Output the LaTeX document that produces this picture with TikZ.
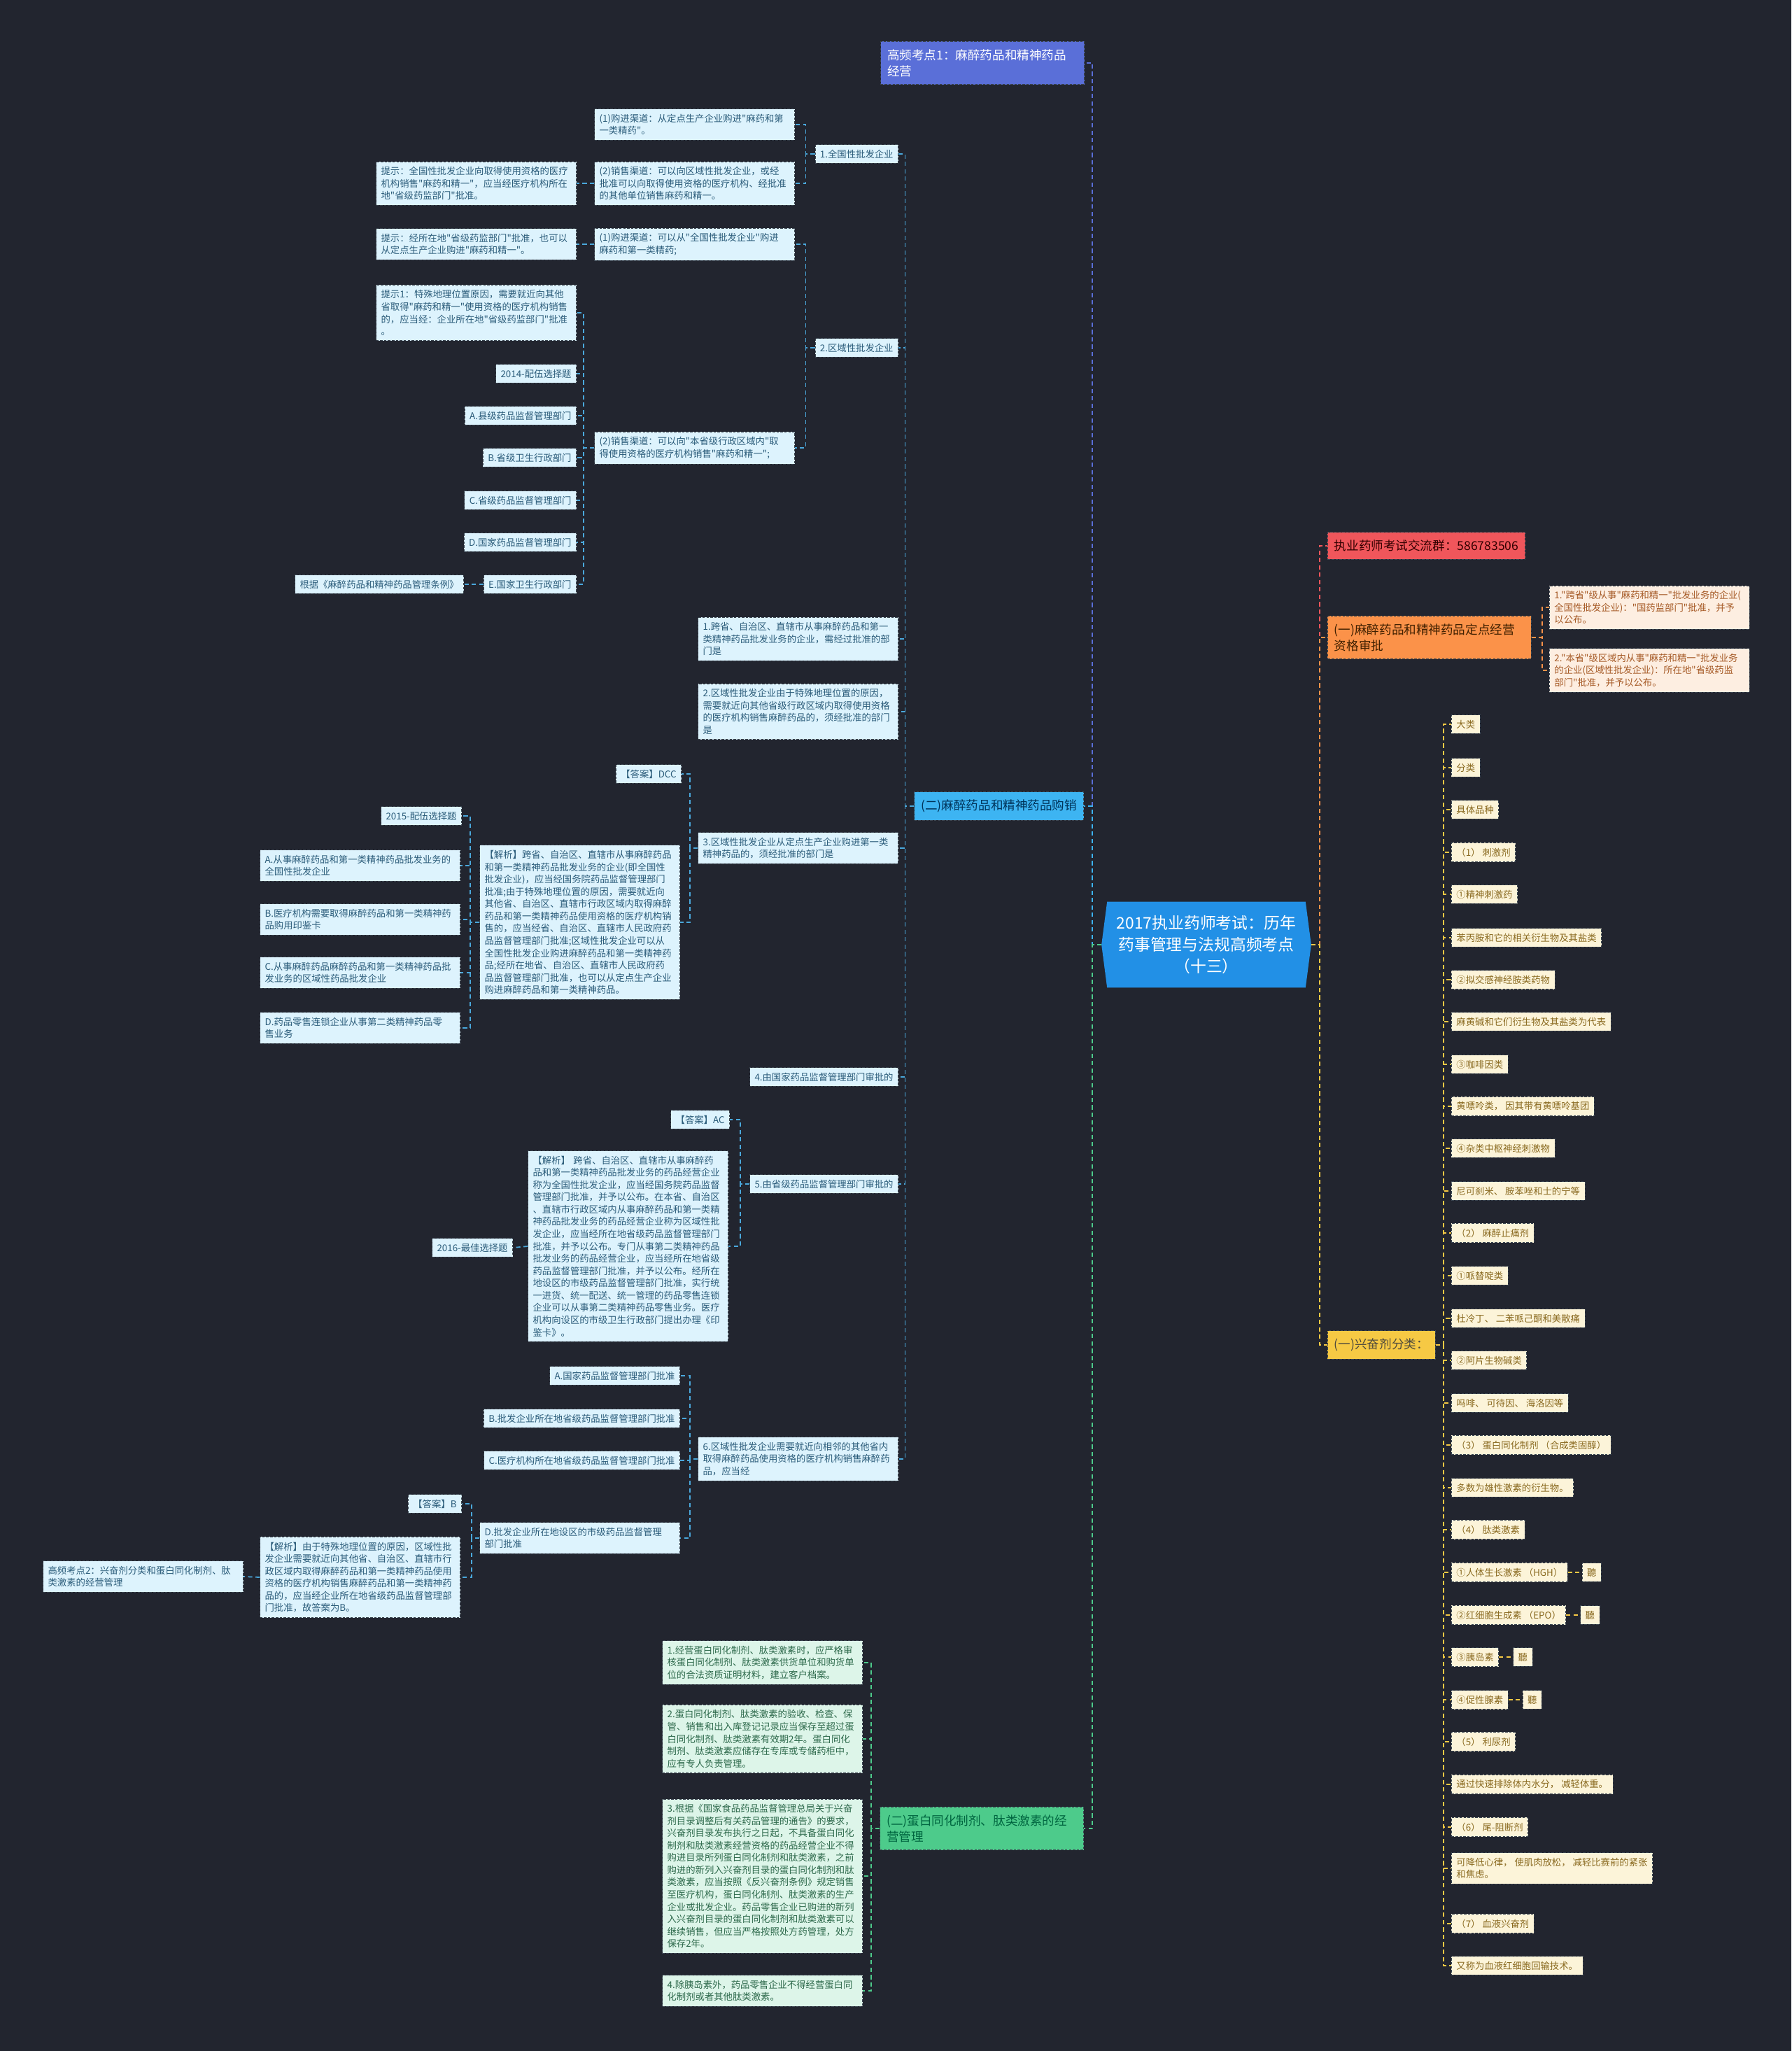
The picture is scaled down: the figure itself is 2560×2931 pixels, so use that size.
\documentclass[tikz,border=0pt]{standalone}
\usepackage{fontspec}
\setmainfont{Noto Sans CJK SC}[Ligatures=TeXOff]
\usetikzlibrary{positioning,backgrounds}

\definecolor{bgdark}{HTML}{22252F}
\definecolor{boxline}{HTML}{3C4652}
\definecolor{rootblue}{HTML}{2290E6}
\definecolor{indigo}{HTML}{5A6FD8}
\definecolor{skyblue}{HTML}{3DB4F2}
\definecolor{linkblue}{HTML}{4AA8DC}
\definecolor{leafblue}{HTML}{DDF3FD}
\definecolor{leafbluetext}{HTML}{2B5C7A}
\definecolor{mint}{HTML}{4DCB8B}
\definecolor{leafgreen}{HTML}{DDF5E9}
\definecolor{leafgreentext}{HTML}{2E6A4C}
\definecolor{coral}{HTML}{F0565B}
\definecolor{tangerine}{HTML}{FB9249}
\definecolor{leafpeach}{HTML}{FDEEE1}
\definecolor{leafpeachtext}{HTML}{A65A26}
\definecolor{gold}{HTML}{F6C944}
\definecolor{leafcream}{HTML}{FCF4D9}
\definecolor{leafcreamtext}{HTML}{8A6A20}

\tikzset{
  box/.style={draw=boxline, line width=0.5pt, dash pattern=on 2pt off 1.2pt,
    inner xsep=0.14cm, inner ysep=0.145cm, font=\fontsize{7.6}{10}\selectfont, align=left},
  blueleaf/.style={box, fill=leafblue, text=leafbluetext},
  greenleaf/.style={box, fill=leafgreen, text=leafgreentext},
  peachleaf/.style={box, fill=leafpeach, text=leafpeachtext},
  creamleaf/.style={box, fill=leafcream, text=leafcreamtext},
  wide/.style={text width=5.44cm},
  topic/.style={box, inner xsep=0.19cm, inner ysep=0.22cm, font=\fontsize{10}{13}\selectfont},
  link/.style={line width=1pt, dash pattern=on 3.5pt off 2.5pt},
}

\begin{document}
\begin{tikzpicture}[x=0.02cm,y=-0.02cm]
  \begin{scope}[on background layer]
    \fill[bgdark] (0,0) rectangle (2560,2931);
  \end{scope}
  \path[use as bounding box] (0,0) rectangle (2560,2931);

  % root
  \node[minimum width=5.98cm, minimum height=2.44cm, align=center, text=white,
    font=\fontsize{13}{17.6}\selectfont] (root) at (1724,1350)
    {2017执业药师考试：历年\\药事管理与法规高频考点\\（十三）};
  \begin{scope}[on background layer]
    \fill[rootblue] ([xshift=0.16cm]root.north west) -- ([xshift=-0.16cm]root.north east)
      -- (root.east) -- ([xshift=-0.16cm]root.south east)
      -- ([xshift=0.16cm]root.south west) -- (root.west) -- cycle;
  \end{scope}

  % left topics
  \node[topic, wide, fill=indigo, text=white, anchor=east] (hf1) at (1550,90)
    {高频考点1：麻醉药品和精神药品\\经营};
  \node[topic, fill=skyblue, text={black!75!blue!60!teal}, anchor=east] (mz2) at (1549,1152)
    {(二)麻醉药品和精神药品购销};
  \node[topic, wide, fill=mint, text={black!70!green!50!teal}, anchor=east] (dbt) at (1549,2613)
    {(二)蛋白同化制剂、肽类激素的经\\营管理};
  \draw[link, indigo] (root.west) -- ++(-13,0) |- (hf1.east);
  \draw[link, skyblue] (root.west) -- ++(-13,0) |- (mz2.east);
  \draw[link, mint] (root.west) -- ++(-13,0) |- (dbt.east);

  % right topics
  \node[topic, fill=coral, text={black!80!red}, anchor=west] (qun) at (1897,780)
    {执业药师考试交流群：586783506};
  \node[topic, wide, fill=tangerine, text={black!75!orange}, anchor=west] (mz1) at (1897,911)
    {(一)麻醉药品和精神药品定点经营\\资格审批};
  \node[topic, fill=gold, text={black!80!yellow}, anchor=west] (xf) at (1897,1922)
    {(一)兴奋剂分类：};
  \draw[link, coral] (root.east) -- ++(12,0) |- (qun.west);
  \draw[link, tangerine] (root.east) -- ++(12,0) |- (mz1.west);
  \draw[link, gold] (root.east) -- ++(12,0) |- (xf.west);

  % (一) approval
  \node[peachleaf, wide, anchor=west] (r1) at (2214,868)
    {1."跨省"级从事"麻药和精一"批发业务的企业(\\全国性批发企业)："国药监部门"批准，并予\\以公布。};
  \node[peachleaf, wide, anchor=west] (r2) at (2214,958)
    {2."本省"级区域内从事"麻药和精一"批发业务\\的企业(区域性批发企业)：所在地"省级药监\\部门"批准，并予以公布。};
  \draw[link, tangerine] (mz1.east) -- ++(15,0) |- (r1.west);
  \draw[link, tangerine] (mz1.east) -- ++(15,0) |- (r2.west);

  % stimulant list
  \foreach \yy/\txt [count=\i] in {
    1035/大类, 1097/分类, 1157/具体品种, 1218/（1） 刺激剂, 1278/①精神刺激药,
    1340/苯丙胺和它的相关衍生物及其盐类, 1400/②拟交感神经胺类药物,
    1460/麻黄碱和它们衍生物及其盐类为代表, 1521/③咖啡因类,
    1581/黄嘌呤类， 因其带有黄嘌呤基团, 1641/④杂类中枢神经刺激物,
    1702/尼可刹米、 胺苯唑和士的宁等, 1762/（2） 麻醉止痛剂, 1823/①哌替啶类,
    1884/杜冷丁、 二苯哌己酮和美散痛, 1944/②阿片生物碱类, 2005/吗啡、 可待因、 海洛因等,
    2065/（3） 蛋白同化制剂 （合成类固醇）, 2126/多数为雄性激素的衍生物。,
    2186/（4） 肽类激素, 2247/①人体生长激素 （HGH）, 2308/②红细胞生成素 （EPO）,
    2368/③胰岛素, 2429/④促性腺素, 2489/（5） 利尿剂, 2550/通过快速排除体内水分， 减轻体重。,
    2611/（6） 尾-阻断剂, 2670/{可降低心律， 使肌肉放松， 减轻比赛前的紧张\\和焦虑。},
    2749/（7） 血液兴奋剂, 2809/又称为血液红细胞回输技术。}
  {
    \node[creamleaf, anchor=west] (xf\i) at (2074,\yy) {\txt};
    \draw[link, gold] (xf.east) -- ++(11,0) |- (xf\i.west);
  }
  \foreach \i in {21,...,24} {
    \node[creamleaf, right=0.4cm of xf\i] (ting\i) {聽};
    \draw[link, gold] (xf\i.east) -- (ting\i.west);
  }

  % (二) purchase and sale
  \node[blueleaf, anchor=east] (n1) at (1284,220) {1.全国性批发企业};
  \node[blueleaf, anchor=east] (n2) at (1284,497) {2.区域性批发企业};
  \node[blueleaf, wide, anchor=east] (m1) at (1284,913)
    {1.跨省、自治区、直辖市从事麻醉药品和第一\\类精神药品批发业务的企业，需经过批准的部\\门是};
  \node[blueleaf, wide, anchor=east] (m2) at (1284,1017)
    {2.区域性批发企业由于特殊地理位置的原因，\\需要就近向其他省级行政区域内取得使用资格\\的医疗机构销售麻醉药品的，须经批准的部门\\是};
  \node[blueleaf, wide, anchor=east] (m3) at (1284,1212)
    {3.区域性批发企业从定点生产企业购进第一类\\精神药品的，须经批准的部门是};
  \node[blueleaf, anchor=east] (m4) at (1284,1539) {4.由国家药品监督管理部门审批的};
  \node[blueleaf, anchor=east] (m5) at (1284,1692) {5.由省级药品监督管理部门审批的};
  \node[blueleaf, wide, anchor=east] (m6) at (1284,2085)
    {6.区域性批发企业需要就近向相邻的其他省内\\取得麻醉药品使用资格的医疗机构销售麻醉药\\品，应当经};
  \foreach \nm in {n1,n2,m1,m2,m3,m4,m5,m6}
    \draw[link, linkblue] (mz2.west) -- ++(-13,0) |- (\nm.east);

  % national wholesale
  \node[blueleaf, wide, anchor=east] (p1) at (1136,178)
    {(1)购进渠道：从定点生产企业购进"麻药和第\\一类精药"。};
  \node[blueleaf, wide, anchor=east] (p2) at (1136,262)
    {(2)销售渠道：可以向区域性批发企业，或经\\批准可以向取得使用资格的医疗机构、经批准\\的其他单位销售麻药和精一。};
  \node[blueleaf, wide, anchor=east] (t1) at (824,262)
    {提示：全国性批发企业向取得使用资格的医疗\\机构销售"麻药和精一"，应当经医疗机构所在\\地"省级药监部门"批准。};
  \draw[link, linkblue] (n1.west) -- ++(-13,0) |- (p1.east);
  \draw[link, linkblue] (n1.west) -- ++(-13,0) |- (p2.east);
  \draw[link, linkblue] (p2.west) -- ++(-13,0) |- (t1.east);

  % regional wholesale
  \node[blueleaf, wide, anchor=east] (p3) at (1136,349)
    {(1)购进渠道：可以从"全国性批发企业"购进\\麻药和第一类精药;};
  \node[blueleaf, wide, anchor=east] (p4) at (1136,640)
    {(2)销售渠道：可以向"本省级行政区域内"取\\得使用资格的医疗机构销售"麻药和精一";};
  \node[blueleaf, wide, anchor=east] (t2) at (824,349)
    {提示：经所在地"省级药监部门"批准，也可以\\从定点生产企业购进"麻药和精一"。};
  \node[blueleaf, wide, anchor=east] (t3) at (824,447)
    {提示1：特殊地理位置原因，需要就近向其他\\省取得"麻药和精一"使用资格的医疗机构销售\\的，应当经：企业所在地"省级药监部门"批准\\。};
  \draw[link, linkblue] (n2.west) -- ++(-13,0) |- (p3.east);
  \draw[link, linkblue] (n2.west) -- ++(-13,0) |- (p4.east);
  \draw[link, linkblue] (p3.west) -- ++(-13,0) |- (t2.east);
  \draw[link, linkblue] (p4.west) -- ++(-15,0) |- (t3.east);
  \foreach \yy/\nm/\txt in {534/q14/2014-配伍选择题, 594/oA/A.县级药品监督管理部门,
      654/oB/B.省级卫生行政部门, 715/oC/C.省级药品监督管理部门,
      775/oD/D.国家药品监督管理部门, 835/oE/E.国家卫生行政部门} {
    \node[blueleaf, anchor=east] (\nm) at (824,\yy) {\txt};
    \draw[link, linkblue] (p4.west) -- ++(-15,0) |- (\nm.east);
  }
  \node[blueleaf, anchor=east] (law) at (663,835) {根据《麻醉药品和精神药品管理条例》};
  \draw[link, linkblue] (oE.west) -- (law.east);

  % question 3
  \node[blueleaf, anchor=east] (ans1) at (974,1106) {【答案】DCC};
  \node[blueleaf, wide, anchor=east] (jx1) at (972,1318)
    {【解析】跨省、自治区、直辖市从事麻醉药品\\和第一类精神药品批发业务的企业(即全国性\\批发企业)，应当经国务院药品监督管理部门\\批准;由于特殊地理位置的原因，需要就近向\\其他省、自治区、直辖市行政区域内取得麻醉\\药品和第一类精神药品使用资格的医疗机构销\\售的，应当经省、自治区、直辖市人民政府药\\品监督管理部门批准;区域性批发企业可以从\\全国性批发企业购进麻醉药品和第一类精神药\\品;经所在地省、自治区、直辖市人民政府药\\品监督管理部门批准，也可以从定点生产企业\\购进麻醉药品和第一类精神药品。};
  \draw[link, linkblue] (m3.west) -- ++(-11,0) |- (ans1.east);
  \draw[link, linkblue] (m3.west) -- ++(-11,0) |- (jx1.east);
  \node[blueleaf, anchor=east] (q15) at (660,1166) {2015-配伍选择题};
  \node[blueleaf, wide, anchor=east] (aA) at (658,1237)
    {A.从事麻醉药品和第一类精神药品批发业务的\\全国性批发企业};
  \node[blueleaf, wide, anchor=east] (aB) at (658,1314)
    {B.医疗机构需要取得麻醉药品和第一类精神药\\品购用印鉴卡};
  \node[blueleaf, wide, anchor=east] (aC) at (658,1390)
    {C.从事麻醉药品麻醉药品和第一类精神药品批\\发业务的区域性药品批发企业};
  \node[blueleaf, wide, anchor=east] (aD) at (658,1469)
    {D.药品零售连锁企业从事第二类精神药品零\\售业务};
  \foreach \nm in {q15,aA,aB,aC,aD}
    \draw[link, linkblue] (jx1.west) -- ++(-13,0) |- (\nm.east);

  % question 5
  \node[blueleaf, anchor=east] (ans2) at (1043,1600) {【答案】AC};
  \node[blueleaf, wide, anchor=east] (jx2) at (1041,1781)
    {【解析】 跨省、自治区、直辖市从事麻醉药\\品和第一类精神药品批发业务的药品经营企业\\称为全国性批发企业，应当经国务院药品监督\\管理部门批准，并予以公布。在本省、自治区\\、直辖市行政区域内从事麻醉药品和第一类精\\神药品批发业务的药品经营企业称为区域性批\\发企业，应当经所在地省级药品监督管理部门\\批准，并予以公布。专门从事第二类精神药品\\批发业务的药品经营企业，应当经所在地省级\\药品监督管理部门批准，并予以公布。经所在\\地设区的市级药品监督管理部门批准，实行统\\一进货、统一配送、统一管理的药品零售连锁\\企业可以从事第二类精神药品零售业务。医疗\\机构向设区的市级卫生行政部门提出办理《印\\鉴卡》。};
  \node[blueleaf, anchor=east] (q16) at (733,1783) {2016-最佳选择题};
  \draw[link, linkblue] (m5.west) -- ++(-13,0) |- (ans2.east);
  \draw[link, linkblue] (m5.west) -- ++(-13,0) |- (jx2.east);
  \draw[link, linkblue] (jx2.west) -- (q16.east);

  % question 6
  \node[blueleaf, anchor=east] (bA) at (972,1966) {A.国家药品监督管理部门批准};
  \node[blueleaf, anchor=east] (bB) at (972,2027) {B.批发企业所在地省级药品监督管理部门批准};
  \node[blueleaf, anchor=east] (bC) at (972,2087) {C.医疗机构所在地省级药品监督管理部门批准};
  \node[blueleaf, wide, anchor=east] (bD) at (972,2198)
    {D.批发企业所在地设区的市级药品监督管理\\部门批准};
  \foreach \nm in {bA,bB,bC,bD}
    \draw[link, linkblue] (m6.west) -- ++(-11,0) |- (\nm.east);
  \node[blueleaf, anchor=east] (ans3) at (660,2149) {【答案】B};
  \node[blueleaf, wide, anchor=east] (jx3) at (658,2254)
    {【解析】由于特殊地理位置的原因，区域性批\\发企业需要就近向其他省、自治区、直辖市行\\政区域内取得麻醉药品和第一类精神药品使用\\资格的医疗机构销售麻醉药品和第一类精神药\\品的，应当经企业所在地省级药品监督管理部\\门批准，故答案为B。};
  \node[blueleaf, wide, anchor=east] (hf2) at (348,2253)
    {高频考点2：兴奋剂分类和蛋白同化制剂、肽\\类激素的经营管理};
  \draw[link, linkblue] (bD.west) -- ++(-11,0) |- (ans3.east);
  \draw[link, linkblue] (bD.west) -- ++(-11,0) |- (jx3.east);
  \draw[link, linkblue] (jx3.west) -- (hf2.east);

  % anabolic agents and peptide hormones
  \node[greenleaf, wide, anchor=east] (g1) at (1233,2376)
    {1.经营蛋白同化制剂、肽类激素时，应严格审\\核蛋白同化制剂、肽类激素供货单位和购货单\\位的合法资质证明材料，建立客户档案。};
  \node[greenleaf, wide, anchor=east] (g2) at (1233,2485)
    {2.蛋白同化制剂、肽类激素的验收、检查、保\\管、销售和出入库登记记录应当保存至超过蛋\\白同化制剂、肽类激素有效期2年。蛋白同化\\制剂、肽类激素应储存在专库或专储药柜中，\\应有专人负责管理。};
  \node[greenleaf, wide, anchor=east] (g3) at (1233,2681)
    {3.根据《国家食品药品监督管理总局关于兴奋\\剂目录调整后有关药品管理的通告》的要求，\\兴奋剂目录发布执行之日起，不具备蛋白同化\\制剂和肽类激素经营资格的药品经营企业不得\\购进目录所列蛋白同化制剂和肽类激素，之前\\购进的新列入兴奋剂目录的蛋白同化制剂和肽\\类激素，应当按照《反兴奋剂条例》规定销售\\至医疗机构，蛋白同化制剂、肽类激素的生产\\企业或批发企业。药品零售企业已购进的新列\\入兴奋剂目录的蛋白同化制剂和肽类激素可以\\继续销售，但应当严格按照处方药管理，处方\\保存2年。};
  \node[greenleaf, wide, anchor=east] (g4) at (1233,2845)
    {4.除胰岛素外，药品零售企业不得经营蛋白同\\化制剂或者其他肽类激素。};
  \foreach \nm in {g1,g2,g3,g4}
    \draw[link, mint] (dbt.west) -- ++(-12,0) |- (\nm.east);
\end{tikzpicture}
\end{document}
